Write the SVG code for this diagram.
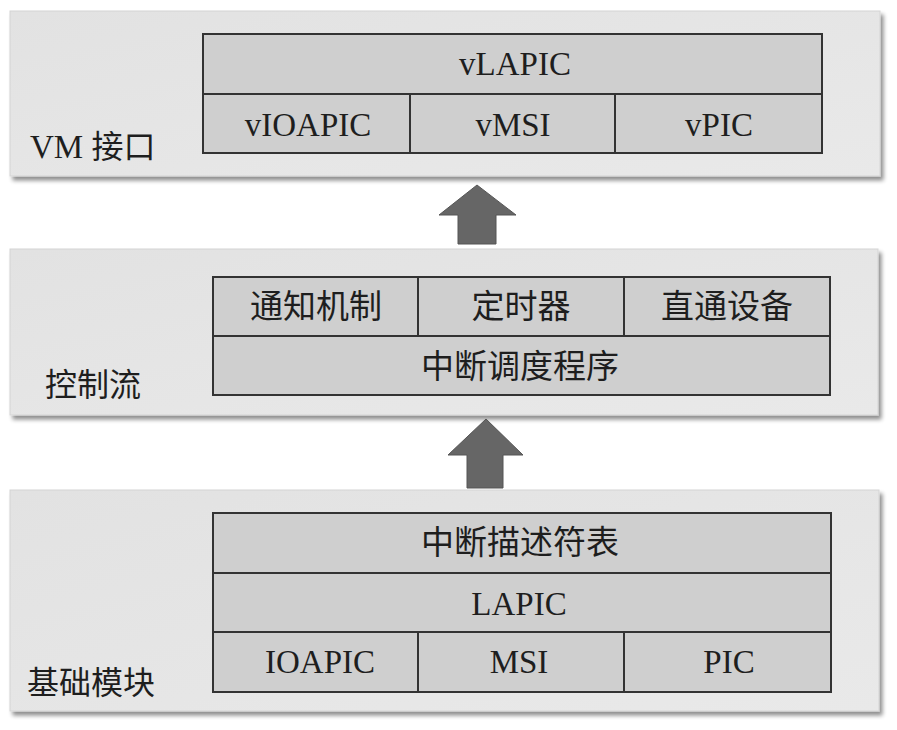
<svg xmlns="http://www.w3.org/2000/svg" width="897" height="730" viewBox="0 0 897 730">
<defs>
<filter id="sh" x="-5%" y="-10%" width="112%" height="125%">
<feGaussianBlur in="SourceAlpha" stdDeviation="2"/>
<feOffset dx="3" dy="4" result="b"/>
<feComponentTransfer><feFuncA type="linear" slope="0.45"/></feComponentTransfer>
<feMerge><feMergeNode/><feMergeNode in="SourceGraphic"/></feMerge>
</filter>
<linearGradient id="pg" x1="0" y1="0" x2="1" y2="1">
<stop offset="0" stop-color="#e2e2e2"/>
<stop offset="1" stop-color="#e9e9e9"/>
</linearGradient>
</defs>
<style>
.panel{fill:url(#pg);stroke:#d4d4d4;stroke-width:1}
.cell{fill:#cfcfcf;stroke:#333;stroke-width:2}
.lat{font-family:"Liberation Serif","Times New Roman",serif;font-size:33px;fill:#1e1e1e;text-anchor:middle}
.cjk{font-family:"Liberation Serif","Noto Sans CJK SC",sans-serif;font-size:33px;fill:#1e1e1e;text-anchor:middle}
.lbl{text-anchor:start;font-size:32px}
.arrow{fill:#666;stroke:#555;stroke-width:1}
</style>
<rect width="897" height="730" fill="#fff"/>

<g id="vm">
<rect class="panel" x="10" y="11" width="870" height="165" filter="url(#sh)"/>
<text class="cjk lbl" x="30" y="158"><tspan font-family="Liberation Serif" font-size="33">VM </tspan>接口</text>
<g id="vlapic"><rect class="cell" x="203" y="34" width="619" height="60"/><text class="lat" x="515" y="75">vLAPIC</text></g>
<g id="vioapic"><rect class="cell" x="203" y="94" width="207" height="59"/><text class="lat" x="308" y="136">vIOAPIC</text></g>
<g id="vmsi"><rect class="cell" x="410" y="94" width="205" height="59"/><text class="lat" x="513" y="136">vMSI</text></g>
<g id="vpic"><rect class="cell" x="615" y="94" width="207" height="59"/><text class="lat" x="719" y="136">vPIC</text></g>
</g>

<g id="ctrl">
<rect class="panel" x="10" y="249" width="868" height="166" filter="url(#sh)"/>
<text class="cjk lbl" x="45" y="396">控制流</text>
<g id="notify"><rect class="cell" x="213" y="277" width="205" height="59"/><text class="cjk" x="316" y="318">通知机制</text></g>
<g id="timer"><rect class="cell" x="418" y="277" width="206" height="59"/><text class="cjk" x="521" y="318">定时器</text></g>
<g id="passthru"><rect class="cell" x="624" y="277" width="206" height="59"/><text class="cjk" x="727" y="318">直通设备</text></g>
<g id="sched"><rect class="cell" x="213" y="336" width="617" height="59"/><text class="cjk" x="520" y="378">中断调度程序</text></g>
</g>

<g id="base">
<rect class="panel" x="10" y="490" width="869" height="221" filter="url(#sh)"/>
<text class="cjk lbl" x="27" y="694">基础模块</text>
<g id="idt"><rect class="cell" x="213" y="513" width="618" height="60"/><text class="cjk" x="520" y="554">中断描述符表</text></g>
<g id="lapic"><rect class="cell" x="213" y="573" width="618" height="59"/><text class="lat" x="519" y="615">LAPIC</text></g>
<g id="ioapic"><rect class="cell" x="213" y="632" width="205" height="60"/><text class="lat" x="320" y="673">IOAPIC</text></g>
<g id="msi"><rect class="cell" x="418" y="632" width="206" height="60"/><text class="lat" x="519" y="673">MSI</text></g>
<g id="pic"><rect class="cell" x="624" y="632" width="207" height="60"/><text class="lat" x="729" y="673">PIC</text></g>
</g>

<g id="connectors">
<polygon class="arrow" points="477,185 516,215 496,215 496,244 458,244 458,215 439,215"/>
<polygon class="arrow" points="486,419 523,455 503,455 503,488 467,488 467,455 448,455"/>
</g>
</svg>
